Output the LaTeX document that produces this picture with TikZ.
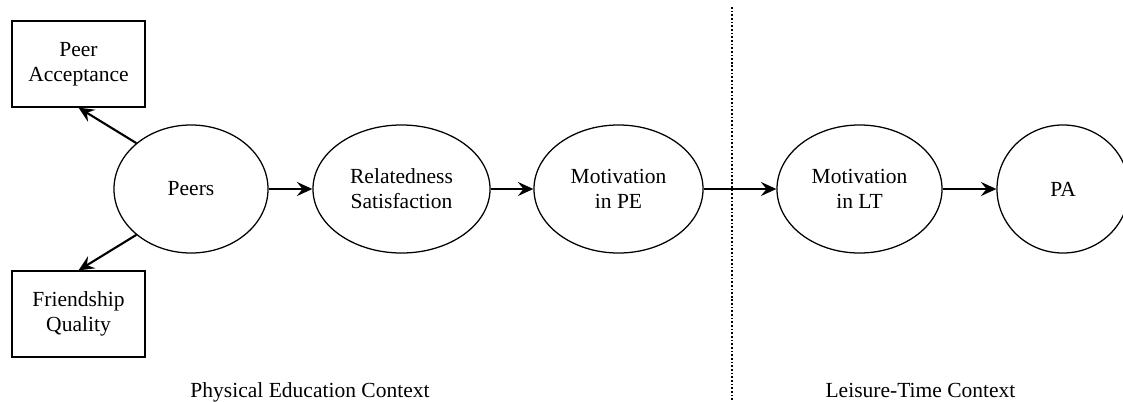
\documentclass[tikz,border=0pt]{standalone}
\usepackage{fontspec}
\setmainfont{Liberation Serif}
\usetikzlibrary{arrows.meta, shapes.geometric}

\begin{document}
\begin{tikzpicture}[x=0.025cm, y=-0.025cm,
  font=\rmfamily\fontsize{15.3}{17.8}\selectfont,
  latent/.style={draw, ellipse, line width=0.9pt, inner sep=0pt, minimum height=3.2cm, align=center},
  indicator/.style={draw, rectangle, line width=0.9pt, inner sep=0pt, minimum width=3.325cm, minimum height=2.15cm, align=center},
  link/.style={-{Stealth[length=11pt, width=10pt, inset=4pt]}, line width=1.5pt}]
  \useasboundingbox (0,0) rectangle (1123,401);
  % Physical education context
  \node[indicator] (acc) at (78.5,64) {Peer\\Acceptance};
  \node[indicator] (fq) at (78.5,314) {Friendship\\Quality};
  \node[latent, minimum width=3.85cm] (peers) at (191,189) {Peers};
  \node[latent, minimum width=4.425cm] (rs) at (401.5,189) {Relatedness\\Satisfaction};
  \node[latent, minimum width=4.225cm] (mpe) at (618.5,189) {Motivation\\in PE};
  % Leisure-time context
  \node[latent, minimum width=4.125cm] (mlt) at (859.5,189) {Motivation\\in LT};
  \node[latent, minimum width=3.3cm] (pa) at (1063,189) {PA};
  % Paths
  \draw[link] (peers.140) -- (acc.south);
  \draw[link] (peers.220) -- (fq.north);
  \draw[link] (peers.east) -- (rs.west);
  \draw[link] (rs.east) -- (mpe.west);
  \draw[link] (mpe.east) -- (mlt.west);
  \draw[link] (mlt.east) -- (pa.west);
  % Divider and context labels
  \draw[line width=1.2pt, dash pattern=on 1.2pt off 1.4pt] (732,7) -- (732,401);
  \node[anchor=base] (pelabel) at (310,397) {Physical Education Context};
  \node[anchor=base] (ltlabel) at (920.5,397) {Leisure-Time Context};
\end{tikzpicture}
\end{document}
